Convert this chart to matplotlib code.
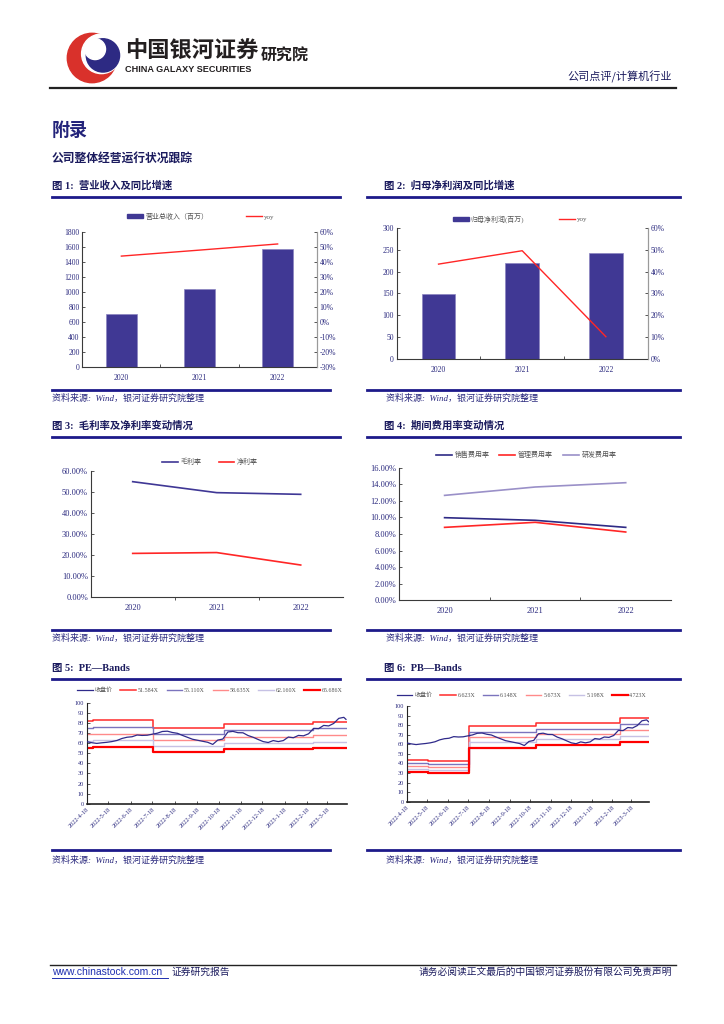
import matplotlib
matplotlib.use("Agg")
import matplotlib.pyplot as plt
from matplotlib.lines import Line2D
from matplotlib.patches import Circle, Patch
import pandas as pd

plt.rcParams['font.family'] = ['Liberation Serif', 'Noto Sans CJK SC', 'DejaVu Sans']
CJK = ['Noto Sans CJK SC', 'DejaVu Sans']
SER = ['Liberation Serif', 'Noto Sans CJK SC']

# ---------------- data ----------------
years = ['2020', '2021', '2022']
revenue = [701, 1041, 1577]            # 营业总收入(百万)
revenue_yoy = [43.9, 47.9, 52.0]       # %
profit = [148, 220, 243]               # 归母净利润(百万)
profit_yoy = [43.4, 49.5, 10.3]        # %
gross_margin = [54.8, 49.6, 48.8]      # %
net_margin = [20.8, 21.2, 15.3]        # %
sales_exp = [9.97, 9.65, 8.80]         # 销售费用率 %
admin_exp = [8.80, 9.41, 8.24]         # 管理费用率 %
rd_exp = [12.66, 13.67, 14.19]         # 研发费用率 %

close_dates = pd.date_range('2022-04-18', periods=52, freq='7D').append(pd.DatetimeIndex(['2023-04-13']))
close_price = [61.4, 60.4, 59.7, 60.3, 60.8, 61.5, 62.6, 64.6, 65.8, 66.3,
               68.0, 67.6, 67.8, 68.8, 69.8, 71.5, 71.8, 70.5, 69.7, 67.6,
               65.7, 63.8, 62.8, 61.8, 60.8, 58.7, 63.0, 64.0, 71.0, 71.6,
               70.3, 70.2, 67.5, 65.8, 63.6, 61.5, 60.6, 62.5, 61.5, 62.5,
               66.0, 65.3, 67.6, 67.2, 69.2, 74.5, 74.3, 77.5, 77.0, 79.5,
               84.5, 85.5, 83.5]

pe_breaks = ['2022-04-18', '2022-04-27', '2022-07-19', '2022-10-26', '2023-02-26', '2023-04-14']
pe_labels = ['51.584X', '55.110X', '58.635X', '62.160X', '65.686X']
pe_bands = [[81.8, 83.0, 74.6, 79.2, 81.2],
            [75.0, 76.0, 68.9, 72.9, 74.6],
            [68.6, 69.3, 62.7, 66.3, 67.7],
            [62.4, 63.0, 57.1, 60.4, 61.4],
            [55.4, 56.5, 51.2, 53.8, 55.1]]

pb_breaks = ['2022-04-18', '2022-05-20', '2022-07-19', '2022-10-27', '2023-03-01', '2023-04-14']
pb_labels = ['6.623X', '6.148X', '5.673X', '5.198X', '4.723X']
pb_bands = [[43.6, 42.5, 79.1, 82.2, 87.1],
            [40.6, 39.5, 73.2, 76.3, 80.8],
            [37.3, 36.3, 67.2, 70.7, 74.6],
            [34.3, 33.3, 62.0, 65.2, 68.3],
            [31.0, 30.0, 56.4, 59.2, 62.4]]

tick_dates = ['2022-04-18', '2022-05-18', '2022-06-18', '2022-07-18', '2022-08-18', '2022-09-18',
              '2022-10-18', '2022-11-18', '2022-12-18', '2023-01-18', '2023-02-18', '2023-03-18']

# ---------------- styles ----------------
NAVY = '#2b2a7f'
BAR = '#403894'
RED = '#ff2626'
TXT = '#1b1b5e'
W, H = 724, 1024

fig = plt.figure(figsize=(7.24, 10.24), dpi=100)


def T(x, y, s, **kw):
    kw.setdefault('va', 'center')
    fig.text(x / W, 1 - y / H, s, **kw)


def HL(x1, x2, y, color, lw):
    fig.add_artist(Line2D([x1 / W, x2 / W], [1 - y / H, 1 - y / H], color=color, lw=lw))


def AX(l, r, t, b):
    return fig.add_axes([l / W, 1 - b / H, (r - l) / W, (b - t) / H])


# ---------------- header ----------------
lax = fig.add_axes([62 / W, 1 - 84 / H, 60 / W, 52 / H])
lax.set_xlim(-1.15, 1.15); lax.set_ylim(-1.0, 1.0); lax.axis('off')
lax.add_patch(Circle((0, 0), 0.95, color='#d9312b'))
lax.add_patch(Circle((0.36, 0.16), 0.76, color='white'))
lax.add_patch(Circle((0.42, 0.1), 0.64, color='#2d2a83'))
lax.add_patch(Circle((0.12, 0.34), 0.4, color='white'))
lax.set_aspect('equal')

T(125, 51, '中国银河证券', fontsize=16, fontweight='bold', family=CJK, color='#231f20')
T(125, 69, 'CHINA GALAXY SECURITIES', fontsize=6.6, fontweight='bold', family=['Liberation Sans'], color='#231f20')
T(261, 56, '研究院', fontsize=11.5, fontweight='bold', family=CJK, color='#231f20')
T(672, 77, '公司点评/计算机行业', fontsize=8, family=CJK, color=TXT, ha='right')
HL(50, 676, 88, '#222222', 1.6)

T(52, 130, '附录', fontsize=13, fontweight='bold', family=CJK, color='#23237a')
T(52, 158, '公司整体经营运行状况跟踪', fontsize=8.5, fontweight='bold', family=CJK, color=TXT)

titles = [(186, 197, '图 1:  营业收入及同比增速', '图 2:  归母净利润及同比增速'),
          (426, 437, '图 3:  毛利率及净利率变动情况', '图 4:  期间费用率变动情况'),
          (668, 679, '图 5:  PE—Bands', '图 6:  PB—Bands')]
for ty, ly, t1, t2 in titles:
    T(52, ty, t1, fontsize=7.5, fontweight='bold', family=SER, color=TXT)
    T(384, ty, t2, fontsize=7.5, fontweight='bold', family=SER, color=TXT)
    HL(52, 340, ly, '#1d1a8a', 2.0)
    HL(367, 680, ly, '#1d1a8a', 2.0)

for ly, ty in [(390, 398), (630, 638), (850, 860)]:
    HL(52, 330, ly, '#1d1a8a', 2.0)
    HL(367, 680, ly, '#1d1a8a', 2.0)
    T(52, ty, '资料来源:  Wind，银河证券研究院整理', fontsize=6.5, family=SER, color=NAVY, style='italic')
    T(386, ty, '资料来源:  Wind，银河证券研究院整理', fontsize=6.5, family=SER, color=NAVY, style='italic')

HL(50, 676, 965, '#222222', 1.0)
T(52, 972, 'www.chinastock.com.cn', fontsize=7.5, family=['Liberation Sans'], color='#1f2fb0')
HL(52, 168, 978, '#1f2fb0', 0.7)
T(171, 972, '证券研究报告', fontsize=7, family=CJK, color=TXT)
T(672, 972, '请务必阅读正文最后的中国银河证券股份有限公司免责声明', fontsize=7, family=CJK, color=TXT, ha='right')


def style_axis(ax, fs=5.5, spines=('left', 'bottom')):
    for s in ['top', 'right', 'left', 'bottom']:
        ax.spines[s].set_visible(s in spines)
        ax.spines[s].set_color('#3a3a3a')
        ax.spines[s].set_linewidth(0.8)
    ax.tick_params(labelsize=fs, colors='#3a3a3a', labelcolor=NAVY, length=2, width=0.6, direction='in', pad=2)
    for lab in ax.get_xticklabels() + ax.get_yticklabels():
        lab.set_family(SER)


def cat_xaxis(ax, fs):
    ax.set_xlim(-0.5, 2.5)
    ax.set_xticks([0.5, 1.5])
    ax.set_xticklabels([])
    ax.set_xticks([0, 1, 2], minor=True)
    ax.set_xticklabels(years, minor=True, fontsize=fs, color=NAVY, family=SER)
    ax.tick_params(axis='x', which='minor', length=0, pad=5)
    ax.tick_params(axis='x', which='major', length=2, direction='in')


# ---------------- chart 1 ----------------
ax1 = AX(82.3, 316.7, 232, 366.7)
ax1.bar(range(3), revenue, width=0.4, color=BAR, edgecolor='#8a84c0', linewidth=0.5, zorder=2)
ax1.set_ylim(0, 1800)
ax1.set_yticks(range(0, 1801, 200))
style_axis(ax1, 5.5, ('left', 'bottom', 'right'))
ax1.spines['right'].set_color('#9a9a9a')
cat_xaxis(ax1, 5.5)
ax1b = ax1.twinx()
ax1b.plot(range(3), revenue_yoy, color=RED, lw=1.0)
ax1b.set_ylim(-30, 60)
ax1b.set_yticks(range(-30, 61, 10))
ax1b.set_yticklabels([f'{v}%' for v in range(-30, 61, 10)])
style_axis(ax1b, 5.5, ('right',))
ax1b.spines['right'].set_color('#9a9a9a')
ax1.legend([Patch(color=BAR), Line2D([], [], color=RED, lw=1)], ['营业总收入（百万）', 'yoy'],
           loc='center', bbox_to_anchor=((201 - 82.3) / 234.4, 1.119), ncol=2, frameon=False,
           prop={'family': SER, 'size': 5}, handlelength=2.3, handleheight=0.45, columnspacing=5.5,
           handletextpad=0.3, labelcolor='#555555')

# ---------------- chart 2 ----------------
ax2 = AX(396.7, 647.7, 227.7, 359.3)
ax2.bar(range(3), profit, width=0.4, color=BAR, edgecolor='#8a84c0', linewidth=0.5, zorder=2)
ax2.set_ylim(0, 300)
ax2.set_yticks(range(0, 301, 50))
style_axis(ax2, 5.5, ('left', 'bottom', 'right'))
ax2.spines['right'].set_color('#9a9a9a')
cat_xaxis(ax2, 5.5)
ax2b = ax2.twinx()
ax2b.plot(range(3), profit_yoy, color=RED, lw=1.0)
ax2b.set_ylim(0, 60)
ax2b.set_yticks(range(0, 61, 10))
ax2b.set_yticklabels([f'{v}%' for v in range(0, 61, 10)])
style_axis(ax2b, 5.5, ('right',))
ax2b.spines['right'].set_color('#9a9a9a')
ax2.legend([Patch(color=BAR), Line2D([], [], color=RED, lw=1)], ['归母净利润(百万)', 'yoy'],
           loc='center', bbox_to_anchor=((520 - 396.7) / 251, 1.066), ncol=2, frameon=False,
           prop={'family': SER, 'size': 5}, handlelength=2.3, handleheight=0.45, columnspacing=5.0,
           handletextpad=0.3, labelcolor='#555555')

# ---------------- chart 3 ----------------
ax3 = AX(90.7, 342.7, 470.7, 597.3)
ax3.plot(range(3), gross_margin, color='#3f3795', lw=1.2, label='毛利率')
ax3.plot(range(3), net_margin, color=RED, lw=1.2, label='净利率')
ax3.set_ylim(0, 60)
ax3.set_yticks(range(0, 61, 10))
ax3.set_yticklabels([f'{v:.2f}%' for v in range(0, 61, 10)])
style_axis(ax3, 6)
cat_xaxis(ax3, 6)
ax3.tick_params(axis='x', which='major', direction='out')
ax3.legend(loc='center', bbox_to_anchor=((210 - 90.7) / 252, 1.069), ncol=2, frameon=False,
           prop={'family': CJK, 'size': 5}, handlelength=2.2, columnspacing=2.5, handletextpad=0.4,
           labelcolor='#555555')

# ---------------- chart 4 ----------------
ax4 = AX(399.3, 671, 467.7, 600.3)
ax4.plot(range(3), sales_exp, color='#2e2a85', lw=1.2, label='销售费用率')
ax4.plot(range(3), admin_exp, color=RED, lw=1.2, label='管理费用率')
ax4.plot(range(3), rd_exp, color='#9a90c8', lw=1.2, label='研发费用率')
ax4.set_ylim(0, 16)
ax4.set_yticks(range(0, 17, 2))
ax4.set_yticklabels([f'{v:.2f}%' for v in range(0, 17, 2)])
style_axis(ax4, 6)
cat_xaxis(ax4, 6)
ax4.tick_params(axis='x', which='major', direction='in')
ax4.legend(loc='center', bbox_to_anchor=((526 - 399.3) / 271.7, 1.096), ncol=3, frameon=False,
           prop={'family': CJK, 'size': 5}, handlelength=2.3, columnspacing=1.4, handletextpad=0.4,
           labelcolor='#555555')

# ---------------- chart 5 / 6 ----------------
band_styles = [dict(color='#ff2a2a', lw=1.1), dict(color='#7b74bd', lw=1.0), dict(color='#ff8a8a', lw=1.0),
               dict(color='#c6c1e4', lw=1.0), dict(color='#ff0000', lw=1.6)]


def band_chart(ax, breaks, labels, bands, legend_x, legend_y):
    bx = pd.to_datetime(breaks)
    ax.plot(close_dates, close_price, color='#2f2a8a', lw=0.9, label='收盘价', zorder=5)
    for lab, vals, st in zip(labels, bands, band_styles):
        ax.step(bx, vals + [vals[-1]], where='post', label=lab, **st)
    ax.set_xlim(pd.Timestamp('2022-04-18'), pd.Timestamp('2023-04-14'))
    ax.set_ylim(0, 100)
    ax.set_yticks(range(0, 101, 10))
    td = pd.to_datetime(tick_dates)
    ax.set_xticks(td)
    ax.set_xticklabels([f'{d.year}-{d.month}-{d.day}' for d in td], rotation=45, ha='right',
                       rotation_mode='anchor')
    style_axis(ax, 4.5)
    ax.spines['left'].set_color('#222222')
    ax.spines['bottom'].set_color('#222222')
    ax.spines['bottom'].set_linewidth(1.2)
    ax.legend(loc='center', bbox_to_anchor=(legend_x, legend_y), ncol=6, frameon=False,
              prop={'family': SER, 'size': 4.3}, handlelength=2.6, columnspacing=1.3, handletextpad=0.3,
              labelcolor='#555555')


ax5 = AX(86.7, 346.7, 702.7, 803.7)
band_chart(ax5, pe_breaks, pe_labels, pe_bands, (210 - 86.7) / 260, 1.126)
ax6 = AX(406.7, 649.3, 706, 801.7)
band_chart(ax6, pb_breaks, pb_labels, pb_bands, (522 - 406.7) / 242.6, 1.115)

fig.savefig('out.png', dpi=100)
